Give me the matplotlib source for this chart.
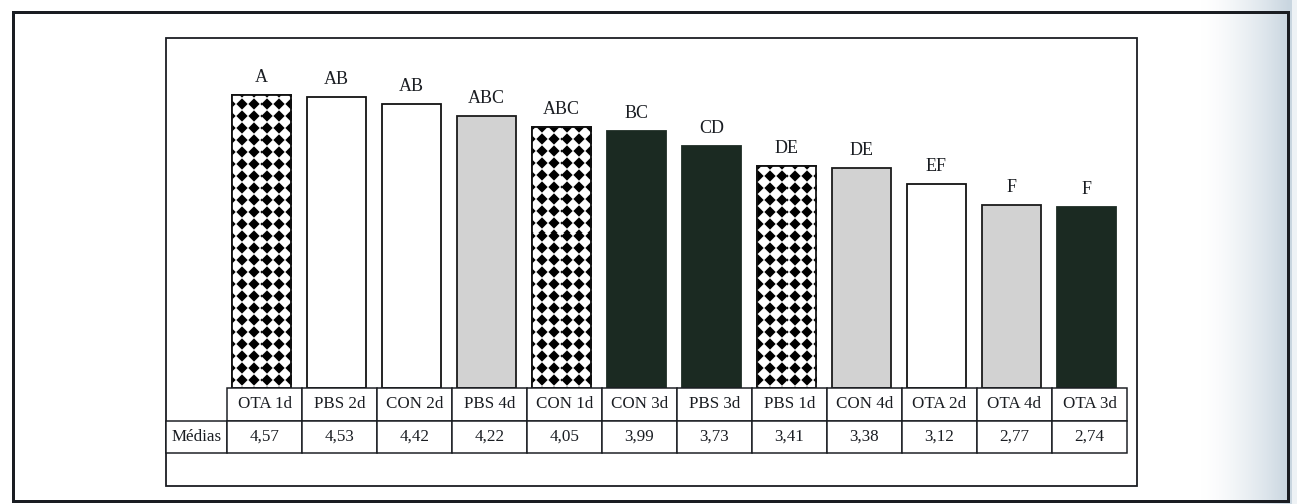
import matplotlib
matplotlib.use("Agg")
import matplotlib.pyplot as plt
import numpy as np
from matplotlib.patches import Rectangle

plt.rcParams['font.family'] = ['Liberation Serif', 'DejaVu Serif']

# data
categories = ['OTA 1d', 'PBS 2d', 'CON 2d', 'PBS 4d', 'CON 1d', 'CON 3d',
              'PBS 3d', 'PBS 1d', 'CON 4d', 'OTA 2d', 'OTA 4d', 'OTA 3d']
means = [4.57, 4.53, 4.42, 4.22, 4.05, 3.99, 3.73, 3.41, 3.38, 3.12, 2.77, 2.74]
letters = ['A', 'AB', 'AB', 'ABC', 'ABC', 'BC', 'CD', 'DE', 'DE', 'EF', 'F', 'F']
row_label = 'Médias'

# fill style per day ('diamonds' = checker pattern drawn as a clipped image)
day_style = {
    '1d': dict(color='white', edgecolor='#111111', pattern=True),
    '2d': dict(color='white', edgecolor='#111111', pattern=False),
    '3d': dict(color='#1b2a22', edgecolor='#1b2a22', pattern=False),
    '4d': dict(color='#d2d2d2', edgecolor='#1a1a1a', pattern=False),
}

W, H = 1297, 504
DPI = 72
ink = '#1a1d22'


def fx(px):
    return px / W


def fy(py):
    return 1 - py / H


fig = plt.figure(figsize=(W / DPI, H / DPI), dpi=DPI)

# page background with the bluish scan shadow on the right
bg = fig.add_axes([0, 0, 1, 1])
bg.set_xlim(0, W)
bg.set_ylim(H, 0)
bg.axis('off')
xs = np.arange(W)
t = np.clip((xs - 1200) / (1288 - 1200), 0, 1) ** 1.5
t[xs > 1291] = 0.3
white = np.array([1.0, 1.0, 1.0])
shade = np.array([0.79, 0.84, 0.88])
row = white[None, :] * (1 - t[:, None]) + shade[None, :] * t[:, None]
img = np.repeat(row[None, :, :], 2, axis=0)
bg.imshow(img, extent=[0, W, H, 0], aspect='auto', zorder=0)
bg.add_patch(Rectangle((13, 12), 1288 - 13, 501 - 12, fill=False, lw=3, ec=ink, zorder=2))
bg.add_patch(Rectangle((166, 38), 1137 - 166, 486 - 38, fill=False, lw=1.8, ec=ink, zorder=2))

# bars
px_per_unit = 61.2
zero_y = 374.7
y_min = -(388 - zero_y) / px_per_unit
y_max = (zero_y - 38) / px_per_unit

ax_left, ax_right, ax_top, ax_bot = 224, 1124, 38, 388
ax = fig.add_axes([fx(ax_left), fy(ax_bot), (ax_right - ax_left) / W, (ax_bot - ax_top) / H])
ax.axis('off')

# diamond texture, 12 px cells
tw, th = ax_right - ax_left, ax_bot - ax_top
uu, vv = np.meshgrid(np.arange(tw) + 0.5, np.arange(th) + 0.5)
du = np.abs(uu % 12 - 6)
dv = np.abs(vv % 12 - 6)
texture = np.clip((du + dv - 5.6) / 1.4 + 0.5, 0, 1)

x = np.arange(len(categories))
xlim = (-0.5, len(categories) - 0.5)
for i, (cat, m) in enumerate(zip(categories, means)):
    st = day_style[cat.split()[1]]
    bars = ax.bar(x[i], m - y_min, bottom=y_min, width=0.79, color=st['color'],
                  edgecolor=st['edgecolor'], linewidth=1.8, zorder=2)
    if st['pattern']:
        im = ax.imshow(texture, cmap='gray', vmin=0, vmax=1, extent=[*xlim, y_min, y_max],
                       aspect='auto', interpolation='nearest', zorder=2.5)
        im.set_clip_path(bars[0])
        ax.bar(x[i], m - y_min, bottom=y_min, width=0.79, fill=False,
               edgecolor=st['edgecolor'], linewidth=1.8, zorder=3)
    ax.annotate(letters[i], (x[i], m), xytext=(0, 13), textcoords='offset points',
                ha='center', va='baseline', fontsize=18, color=ink)

ax.set_xlim(*xlim)
ax.set_ylim(y_min, y_max)

# table under the bars
tax = fig.add_axes([fx(166), fy(453), (1127 - 166) / W, (453 - 388) / H])
tax.axis('off')
value_text = [f"{m:.2f}".replace('.', ',') for m in means]
table = tax.table(cellText=[[''] + categories, [row_label] + value_text],
                  colWidths=[61] + [75] * len(categories),
                  cellLoc='center', bbox=[0, 0, 1, 1])
table.auto_set_font_size(False)
table.set_fontsize(17)
for (r, c), cell in table.get_celld().items():
    cell.set_linewidth(1.5)
    cell.set_edgecolor(ink)
    cell.get_text().set_color(ink)
    cell.PAD = 0.02
table[0, 0].visible_edges = ''

fig.savefig('out.png', dpi=DPI)
